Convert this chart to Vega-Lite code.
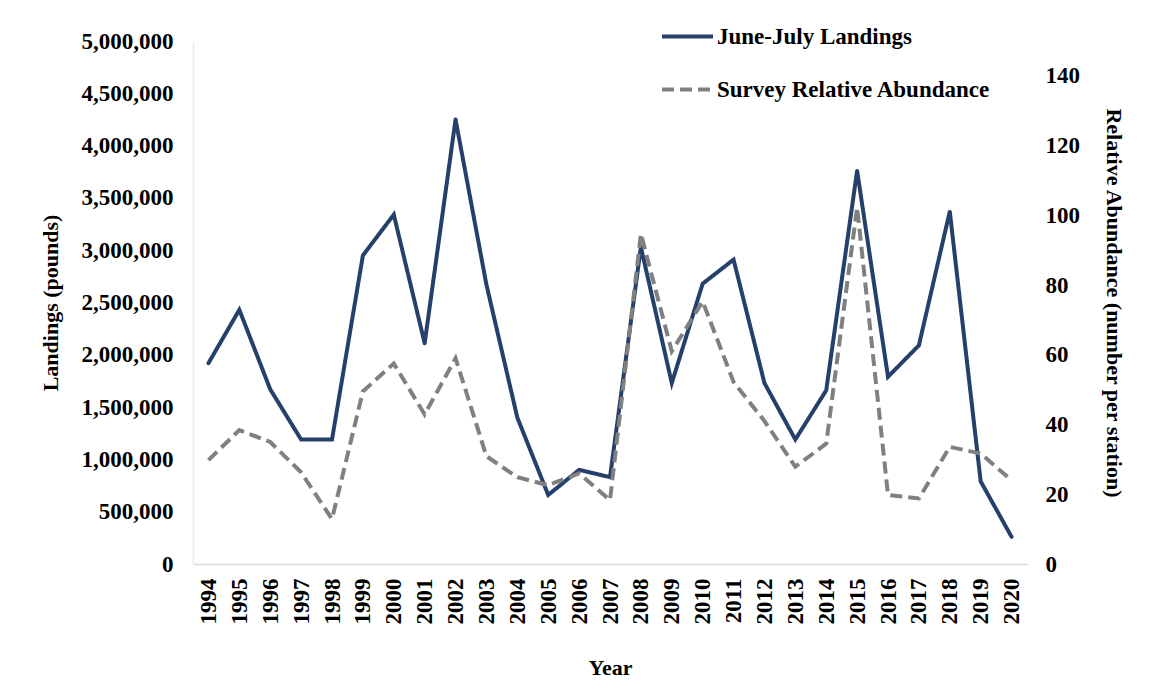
{
  "$schema": "https://vega.github.io/schema/vega-lite/v6.json",
  "width": 834,
  "height": 523,
  "autosize": "none",
  "padding": {"left": 193, "top": 41, "right": 135, "bottom": 136},
  "background": "white",
  "config": {
    "view": {"stroke": null},
    "font": "Liberation Serif",
    "axis": {
      "labelFont": "Liberation Serif",
      "labelFontWeight": "bold",
      "labelFontSize": 23,
      "labelColor": "black",
      "titleFont": "Liberation Serif",
      "titleFontWeight": "bold",
      "titleFontSize": 22,
      "titleColor": "black",
      "ticks": false,
      "grid": false
    },
    "legend": {
      "labelFont": "Liberation Serif",
      "labelFontWeight": "bold",
      "labelFontSize": 23,
      "labelColor": "black",
      "labelLimit": 500
    }
  },
  "data": {
    "values": [
      {"year": "1994", "landings": 1920000, "abundance": 29.8},
      {"year": "1995", "landings": 2430000, "abundance": 38.4},
      {"year": "1996", "landings": 1670000, "abundance": 35.0},
      {"year": "1997", "landings": 1190000, "abundance": 26.3},
      {"year": "1998", "landings": 1190000, "abundance": 12.9},
      {"year": "1999", "landings": 2950000, "abundance": 49.5},
      {"year": "2000", "landings": 3340000, "abundance": 57.5},
      {"year": "2001", "landings": 2110000, "abundance": 42.9},
      {"year": "2002", "landings": 4250000, "abundance": 59.0},
      {"year": "2003", "landings": 2670000, "abundance": 30.9},
      {"year": "2004", "landings": 1400000, "abundance": 24.9},
      {"year": "2005", "landings": 660000, "abundance": 22.6},
      {"year": "2006", "landings": 900000, "abundance": 26.0},
      {"year": "2007", "landings": 830000, "abundance": 18.3},
      {"year": "2008", "landings": 3030000, "abundance": 94.7},
      {"year": "2009", "landings": 1730000, "abundance": 61.0},
      {"year": "2010", "landings": 2680000, "abundance": 75.3},
      {"year": "2011", "landings": 2910000, "abundance": 52.2},
      {"year": "2012", "landings": 1730000, "abundance": 41.0},
      {"year": "2013", "landings": 1190000, "abundance": 27.9},
      {"year": "2014", "landings": 1660000, "abundance": 34.5},
      {"year": "2015", "landings": 3760000, "abundance": 102.3},
      {"year": "2016", "landings": 1790000, "abundance": 19.8},
      {"year": "2017", "landings": 2090000, "abundance": 18.8},
      {"year": "2018", "landings": 3370000, "abundance": 33.6},
      {"year": "2019", "landings": 790000, "abundance": 31.7},
      {"year": "2020", "landings": 260000, "abundance": 24.0}
    ]
  },
  "encoding": {
    "x": {
      "field": "year",
      "type": "ordinal",
      "scale": {"type": "point", "padding": 0.5},
      "axis": {
        "title": "Year",
        "labelAngle": -90,
        "labelPadding": 14,
        "titlePadding": 33,
        "domainColor": "#D9D9D9",
        "domainWidth": 1.5
      }
    }
  },
  "layer": [
    {
      "mark": {"type": "line", "strokeWidth": 4, "strokeCap": "round", "strokeJoin": "miter"},
      "encoding": {
        "y": {
          "field": "landings",
          "type": "quantitative",
          "scale": {"domain": [0, 5000000], "nice": false},
          "axis": {
            "title": "Landings (pounds)",
            "format": ",d",
            "values": [0, 500000, 1000000, 1500000, 2000000, 2500000, 3000000, 3500000, 4000000, 4500000, 5000000],
            "labelPadding": 20,
            "titlePadding": 19,
            "domainColor": "#EEECE1",
            "domainWidth": 1.5
          }
        },
        "color": {
          "datum": "June-July Landings",
          "type": "nominal",
          "scale": {"domain": ["June-July Landings", "Survey Relative Abundance"], "range": ["#25406A", "#808080"]},
          "legend": {
            "title": null,
            "orient": "none",
            "legendX": 467,
            "legendY": -32,
            "symbolType": "stroke",
            "symbolSize": 2600,
            "symbolStrokeWidth": 4,
            "rowPadding": 13,
            "labelOffset": 2
          }
        },
        "strokeDash": {
          "datum": "June-July Landings",
          "type": "nominal",
          "scale": {"domain": ["June-July Landings", "Survey Relative Abundance"], "range": [[1, 0], [12, 6]]},
          "legend": {
            "title": null,
            "orient": "none",
            "legendX": 467,
            "legendY": -32,
            "symbolType": "stroke",
            "symbolSize": 2600,
            "symbolStrokeWidth": 4,
            "rowPadding": 13,
            "labelOffset": 2
          }
        }
      }
    },
    {
      "mark": {"type": "line", "strokeWidth": 4, "strokeJoin": "miter"},
      "encoding": {
        "y": {
          "field": "abundance",
          "type": "quantitative",
          "scale": {"domain": [0, 150], "nice": false},
          "axis": {
            "orient": "right",
            "title": "Relative Abundance (number per station)",
            "titleAngle": 90,
            "values": [0, 20, 40, 60, 80, 100, 120, 140],
            "labelPadding": 18,
            "titlePadding": 22,
            "domain": false
          }
        },
        "color": {"datum": "Survey Relative Abundance", "type": "nominal"},
        "strokeDash": {"datum": "Survey Relative Abundance", "type": "nominal"}
      }
    }
  ],
  "resolve": {"scale": {"y": "independent"}}
}
